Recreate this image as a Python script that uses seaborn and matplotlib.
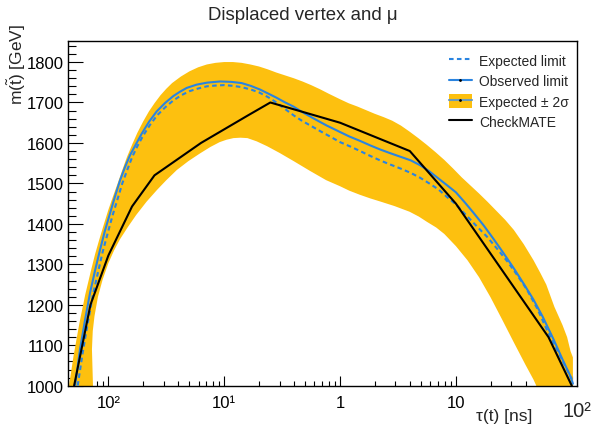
import matplotlib
matplotlib.use("Agg")
import matplotlib.pyplot as plt
import seaborn as sns
import numpy as np
import pandas as pd
from matplotlib.ticker import MultipleLocator, FixedLocator, FixedFormatter, LogLocator, NullFormatter
from matplotlib.patches import Patch
from matplotlib.lines import Line2D

# ── Data (x given as log10 of tau in ns) ─────────────────────────────────────
logtau_obs = [-2.288, -2.245, -2.20, -2.158, -2.115, -2.072, -2.03, -1.986, -1.943, -1.899,
              -1.856, -1.813, -1.76, -1.712, -1.65, -1.583, -1.51, -1.439, -1.38, -1.324,
              -1.24, -1.15, -1.036, -0.94, -0.85, -0.77, -0.691, -0.62, -0.55, -0.48,
              -0.403, -0.33, -0.25, -0.18, -0.115, -0.05, 0.0, 0.08, 0.173, 0.26, 0.345,
              0.43, 0.52, 0.61, 0.691, 0.77, 0.85, 0.93, 1.0, 1.08, 1.15, 1.24, 1.324,
              1.41, 1.5, 1.585, 1.669, 1.75, 1.842, 1.92, 1.986, 2.01]
m_obs = [1000, 1090, 1165, 1230, 1285, 1336, 1383, 1426, 1468, 1508,
         1541, 1570, 1598, 1623, 1652, 1678, 1699, 1716, 1727, 1736,
         1744, 1749, 1752, 1751, 1748, 1741, 1732, 1722, 1712, 1701,
         1690, 1677, 1664, 1653, 1643, 1634, 1627, 1616, 1605, 1594, 1584,
         1575, 1566, 1557, 1545, 1530, 1512, 1494, 1478, 1452, 1428, 1396, 1363,
         1328, 1290, 1252, 1213, 1170, 1115, 1065, 1025, 1005]

logtau_exp = [-2.265, -2.22, -2.178, -2.135, -2.09, -2.05, -2.005, -1.965, -1.92, -1.88,
              -1.835, -1.795, -1.75, -1.70, -1.64, -1.58, -1.51, -1.44, -1.37, -1.3,
              -1.22, -1.15, -1.07, -1.0, -0.92, -0.85, -0.77, -0.7, -0.62, -0.55,
              -0.48, -0.4, -0.33, -0.25, -0.17, -0.1, 0.0, 0.09, 0.173, 0.26, 0.345,
              0.43, 0.52, 0.61, 0.691, 0.77, 0.85, 0.921, 1.0, 1.1, 1.18, 1.266, 1.36,
              1.45, 1.53, 1.612, 1.7, 1.784, 1.87, 1.957, 2.0]
m_exp = [1000, 1085, 1155, 1222, 1280, 1330, 1378, 1420, 1462, 1500,
         1535, 1565, 1592, 1618, 1645, 1668, 1688, 1705, 1718, 1728,
         1735, 1740, 1742, 1743, 1741, 1738, 1732, 1725, 1713, 1700,
         1685, 1668, 1655, 1642, 1629, 1618, 1602, 1591, 1580, 1568, 1557,
         1547, 1537, 1526, 1514, 1500, 1485, 1467, 1448, 1418, 1394, 1369, 1337,
         1305, 1273, 1238, 1192, 1139, 1090, 1041, 1016]

logtau_band_up = [-2.36, -2.34, -2.30, -2.25, -2.2, -2.15, -2.115, -2.08, -2.04, -2.0,
                  -1.96, -1.92, -1.88, -1.84, -1.795, -1.75, -1.70, -1.65, -1.6, -1.55,
                  -1.5, -1.45, -1.375, -1.3, -1.225, -1.15, -1.075, -1.0, -0.925, -0.85,
                  -0.775, -0.7, -0.625, -0.55, -0.475, -0.4, -0.325, -0.25, -0.175, -0.1,
                  0.0, 0.075, 0.15, 0.225, 0.3, 0.375, 0.45, 0.525, 0.6, 0.675, 0.75,
                  0.825, 0.9, 0.975, 1.05, 1.125, 1.2, 1.275, 1.35, 1.425, 1.5, 1.585,
                  1.67, 1.73, 1.78, 1.85, 1.92, 1.96, 1.99, 2.01, 2.01]
m_band_up = [975, 1000, 1075, 1155, 1225, 1285, 1325, 1360, 1398, 1435,
             1468, 1500, 1533, 1565, 1596, 1625, 1653, 1678, 1699, 1718,
             1734, 1748, 1764, 1777, 1787, 1794, 1798, 1800, 1800, 1798,
             1794, 1789, 1782, 1774, 1767, 1760, 1752, 1743, 1733, 1722,
             1708, 1698, 1690, 1681, 1672, 1664, 1655, 1643, 1628, 1612, 1595,
             1577, 1558, 1537, 1515, 1495, 1475, 1454, 1432, 1410, 1385, 1350,
             1310, 1278, 1250, 1195, 1150, 1120, 1085, 1070, 900]

logtau_band_lo = [-2.125, -2.133, -2.142, -2.135, -2.12, -2.09, -2.05, -2.0, -1.95, -1.9,
                  -1.83, -1.76, -1.67, -1.58, -1.5, -1.41, -1.31, -1.21, -1.12, -1.04,
                  -0.98, -0.92, -0.86, -0.8, -0.72, -0.63, -0.52, -0.4, -0.26, -0.12,
                  0.0, 0.08, 0.17, 0.26, 0.35, 0.47, 0.6, 0.68, 0.75, 0.83, 0.9,
                  1.0, 1.1, 1.2, 1.3, 1.4, 1.5, 1.6, 1.67, 1.75, 1.85]
m_band_lo = [920, 1000, 1090, 1135, 1172, 1220, 1262, 1303, 1335, 1362,
             1393, 1422, 1455, 1484, 1508, 1533, 1555, 1574, 1590, 1602,
             1608, 1612, 1613, 1612, 1604, 1592, 1575, 1555, 1531, 1508,
             1493, 1482, 1472, 1463, 1455, 1444, 1430, 1418, 1405, 1391, 1375,
             1345, 1310, 1268, 1218, 1163, 1107, 1052, 1015, 965, 900]

tau_cm = [0.00506, 0.007, 0.01, 0.016, 0.025, 0.063, 0.16, 0.25, 1.0, 4.0, 10.0, 63.0, 100.0]
m_cm = [1000, 1200, 1322, 1443, 1520, 1600, 1668, 1700, 1650, 1580, 1450, 1120, 1000]

xtick_vals = [0.01, 0.1, 1, 10, 100]
xtick_labels = ["10²", "10¹", "1", "10", ""]
ytick_vals = [1000, 1100, 1200, 1300, 1400, 1500, 1600, 1700, 1800]

# ── Style ────────────────────────────────────────────────────────────────────
sns.set_style("ticks")
plt.rcParams["font.family"] = ["Liberation Sans", "DejaVu Sans"]
plt.rcParams["mathtext.fontset"] = "custom"
plt.rcParams["mathtext.rm"] = "Liberation Sans"
plt.rcParams["mathtext.it"] = "Liberation Sans:italic"

BLUE = "#2a84e0"
YELLOW = "#fdc00f"

fig = plt.figure(figsize=(5.94, 4.27), dpi=100)
ax = fig.add_axes([68 / 594, 1 - 386.7 / 427, (577 - 68) / 594, (386.7 - 42) / 427])

band_x = list(10 ** np.array(logtau_band_up)) + list(10 ** np.array(logtau_band_lo))[::-1]
band_y = m_band_up + m_band_lo[::-1]
ax.fill(band_x, band_y, color=YELLOW, lw=0, zorder=1)

df_obs = pd.DataFrame({"tau": 10 ** np.array(logtau_obs), "m": m_obs})
df_exp = pd.DataFrame({"tau": 10 ** np.array(logtau_exp), "m": m_exp})
df_cm = pd.DataFrame({"tau": tau_cm, "m": m_cm})
sns.lineplot(data=df_exp, x="tau", y="m", ax=ax, color=BLUE, lw=1.5, zorder=3)
ax.lines[-1].set_dashes((2.2, 1.6))
sns.lineplot(data=df_obs, x="tau", y="m", ax=ax, color=BLUE, lw=1.5, zorder=4)
sns.lineplot(data=df_cm, x="tau", y="m", ax=ax, color="black", lw=1.5, zorder=5)

ax.set_xscale("log")
ax.set_xlim(0.00448, 111)
ax.set_ylim(1000, 1852)
ax.set_xlabel("")
ax.set_ylabel("")

ax.xaxis.set_major_locator(FixedLocator(xtick_vals))
ax.xaxis.set_major_formatter(FixedFormatter(xtick_labels))
ax.xaxis.set_minor_locator(LogLocator(base=10, subs=np.arange(2, 10)))
ax.xaxis.set_minor_formatter(NullFormatter())
ax.yaxis.set_major_locator(FixedLocator(ytick_vals))
ax.yaxis.set_minor_locator(MultipleLocator(20))

ax.tick_params(axis="both", which="both", direction="in", top=False, right=False,
               width=0.8, colors="black", labelsize=12)
ax.tick_params(axis="y", which="major", length=11, pad=3)
ax.tick_params(axis="y", which="minor", length=5.5)
ax.tick_params(axis="x", which="major", length=7.5, pad=6.5)
ax.tick_params(axis="x", which="minor", length=3.8)
for s in ax.spines.values():
    s.set_visible(True)
    s.set_linewidth(1.0)
    s.set_color("black")

# ROOT-style oversized last decade label
ax.text(1.0, -0.043, "10²", transform=ax.transAxes, ha="center", va="top", fontsize=14.5)

fig.text(303 / 594, 1 - 16 / 427, "Displaced vertex and μ", ha="center", va="center", fontsize=13.4)
fig.text(532 / 594, 1 - 424 / 427, "τ(t) [ns]", ha="right", va="bottom", fontsize=12.5)
fig.text(17 / 594, 1 - 24 / 427, r"m($\mathrm{\tilde{t}}$) [GeV]", rotation=90,
         ha="center", va="top", fontsize=12.5)

handles = [
    Line2D([], [], color=BLUE, lw=1.5, dashes=(2.2, 1.6)),
    Line2D([], [], color=BLUE, lw=1.5, marker=".", markersize=2, markeredgecolor="black",
           markerfacecolor="black"),
    (Patch(facecolor=YELLOW, edgecolor="none"),
     Line2D([], [], color="#6a9ab8", lw=1.5, marker=".", markersize=2,
            markeredgecolor="black", markerfacecolor="black")),
    Line2D([], [], color="black", lw=1.5),
]
labels = ["Expected limit", "Observed limit", "Expected ± 2σ", "CheckMATE"]
ax.legend(handles, labels, loc="upper left", bbox_to_anchor=(449 / 594, 1 - 54.5 / 427),
          bbox_transform=fig.transFigure, frameon=False, borderpad=0, borderaxespad=0,
          handlelength=1.65, handleheight=1.1, handletextpad=0.5, labelspacing=0.43,
          fontsize=10)

fig.savefig("out.png", dpi=100)
